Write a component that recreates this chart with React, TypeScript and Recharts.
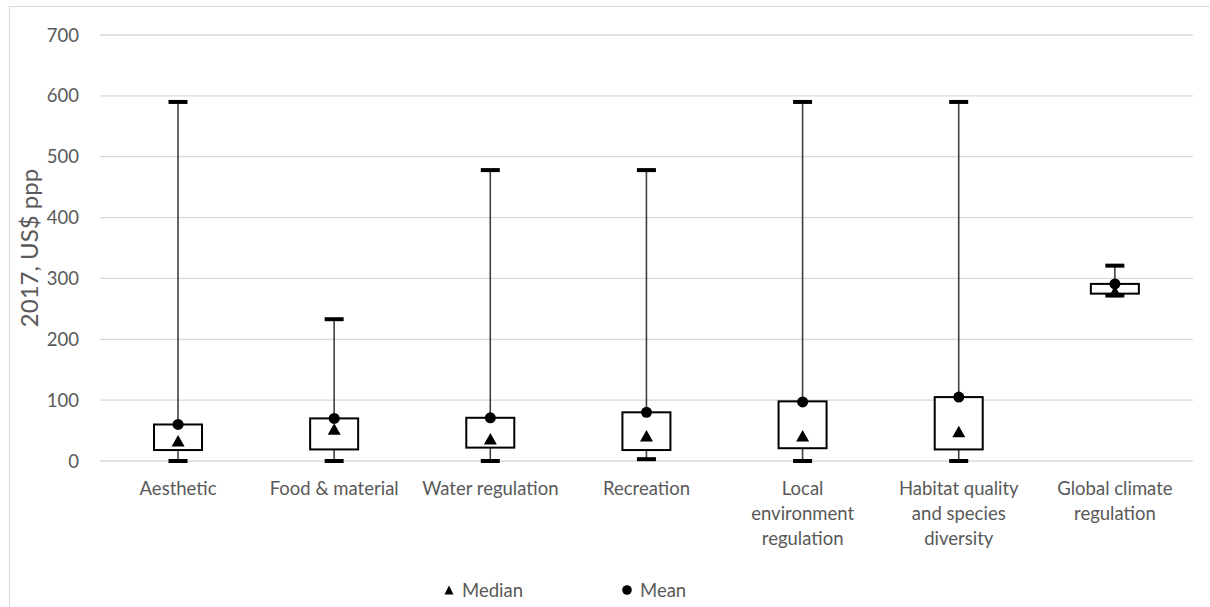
import React from "react";
import { ComposedChart, Bar, Scatter, XAxis, YAxis, CartesianGrid } from "recharts";

// Box plot values (2017, US$ ppp).
const categories = [
  "Aesthetic",
  "Food & material",
  "Water regulation",
  "Recreation",
  "Local environment regulation",
  "Habitat quality and species diversity",
  "Global climate regulation",
];
const minValues = [0, 0, 0, 3, 0, 0, 272];
const q1Values = [18, 19, 22, 18, 21, 19, 275];
const q3Values = [60, 70, 71, 80, 98, 105, 291];
const maxValues = [590, 233, 478, 478, 590, 590, 321];
const medianValues = [33, 52, 36, 41, 41, 48, 278];
const meanValues = [60, 70, 71, 80, 97, 105, 291];
const yTicks = [0, 100, 200, 300, 400, 500, 600, 700];

const FONT = "Lato, 'Open Sans', sans-serif";
const TEXT = "#595959";
const GRID = "#d9d9d9";

const data = categories.map((name, i) => ({
  name,
  base: minValues[i],
  lowerWhisker: q1Values[i] - minValues[i],
  box: q3Values[i] - q1Values[i],
  upperWhisker: maxValues[i] - q3Values[i],
  median: medianValues[i],
  mean: meanValues[i],
}));

// wrap category names the way Excel does in a narrow band
function wrapLabel(label: string, maxChars: number) {
  const words = label.split(" ");
  const lines: string[] = [];
  let cur = "";
  for (const w of words) {
    const next = cur ? cur + " " + w : w;
    if (next.length > maxChars && cur) {
      lines.push(cur);
      cur = w;
    } else {
      cur = next;
    }
  }
  if (cur) lines.push(cur);
  return lines;
}

const CategoryTick = (props: any) => {
  const { x, y, payload } = props;
  const lines = wrapLabel(String(payload.value), 16);
  return (
    <text x={x} y={y} textAnchor="middle" fill={TEXT} fontSize={18.5} fontFamily={FONT}>
      {lines.map((l, i) => (
        <tspan key={i} x={x} dy={i === 0 ? 34 : 25}>
          {l}
        </tspan>
      ))}
    </text>
  );
};

const CAP_W = 19;

const LowerWhisker = (props: any) => {
  const { x, y, width, height } = props;
  const cx = x + width / 2;
  return (
    <g>
      <line x1={cx} x2={cx} y1={y} y2={y + height} stroke="#404040" strokeWidth={1.6} />
      <rect x={cx - CAP_W / 2} y={y + height - 2} width={CAP_W} height={4} fill="#000" />
    </g>
  );
};

const UpperWhisker = (props: any) => {
  const { x, y, width, height } = props;
  const cx = x + width / 2;
  return (
    <g>
      <line x1={cx} x2={cx} y1={y} y2={y + height} stroke="#404040" strokeWidth={1.6} />
      <rect x={cx - CAP_W / 2} y={y - 2} width={CAP_W} height={4} fill="#000" />
    </g>
  );
};

const BoxShape = (props: any) => {
  const { x, y, width, height } = props;
  return <rect x={x} y={y} width={width} height={height} fill="#fff" stroke="#000" strokeWidth={2} />;
};

const Triangle = ({ cx, cy }: any) => (
  <polygon points={`${cx},${cy - 6} ${cx - 6.5},${cy + 5.5} ${cx + 6.5},${cy + 5.5}`} fill="#000" />
);

const Dot = ({ cx, cy }: any) => <circle cx={cx} cy={cy} r={5.5} fill="#000" />;

export default function App() {
  return (
    <div style={{ position: "fixed", left: 0, top: 0, width: 1210, height: 607, overflow: "hidden", background: "#fff" }}>
      <div
        style={{
          position: "absolute",
          left: 9,
          top: 6,
          width: 1230,
          height: 640,
          border: `1px solid ${GRID}`,
        }}
      />
      <div style={{ position: "absolute", left: 0, top: 0 }}>
        <ComposedChart
          width={1210}
          height={607}
          data={data}
          margin={{ top: 35, right: 17, bottom: 46, left: 0 }}
          barSize={48}
        >
          <CartesianGrid vertical={false} stroke={GRID} strokeWidth={1.3} />
          <XAxis
            dataKey="name"
            axisLine={false}
            tickLine={false}
            tickSize={0}
            tickMargin={0}
            height={100}
            interval={0}
            tick={<CategoryTick />}
          />
          <YAxis
            domain={[0, 700]}
            ticks={yTicks}
            axisLine={false}
            tickLine={false}
            tickSize={0}
            tickMargin={21}
            width={100}
            tick={{ fill: TEXT, fontSize: 18.5, fontFamily: FONT }}
            label={{
              content: () => (
                <text
                  x={38}
                  y={248}
                  transform="rotate(-90 38 248)"
                  textAnchor="middle"
                  fill={TEXT}
                  fontSize={24}
                  fontFamily={FONT}
                >
                  2017, US$ ppp
                </text>
              ),
            }}
          />
          <Bar dataKey="base" stackId="bp" fill="transparent" isAnimationActive={false} />
          <Bar dataKey="lowerWhisker" stackId="bp" shape={<LowerWhisker />} isAnimationActive={false} />
          <Bar dataKey="box" stackId="bp" shape={<BoxShape />} isAnimationActive={false} />
          <Bar dataKey="upperWhisker" stackId="bp" shape={<UpperWhisker />} isAnimationActive={false} />
          <Scatter dataKey="median" name="Median" shape={<Triangle />} isAnimationActive={false} />
          <Scatter dataKey="mean" name="Mean" shape={<Dot />} isAnimationActive={false} />
        </ComposedChart>
      </div>
      {/* legend */}
      <div
        style={{
          position: "absolute",
          top: 578,
          left: 0,
          width: 1210,
          height: 24,
          fontFamily: FONT,
          fontSize: 18.5,
          color: TEXT,
        }}
      >
        <div style={{ position: "absolute", left: 444, top: 0, display: "flex", alignItems: "center", height: 24 }}>
          <svg width={10} height={10} style={{ marginRight: 8 }}>
            <polygon points="5,0.5 0.5,9.5 9.5,9.5" fill="#000" />
          </svg>
          <span>Median</span>
        </div>
        <div style={{ position: "absolute", left: 622, top: 0, display: "flex", alignItems: "center", height: 24 }}>
          <svg width={10} height={10} style={{ marginRight: 8 }}>
            <circle cx={5} cy={5} r={4.8} fill="#000" />
          </svg>
          <span>Mean</span>
        </div>
      </div>
    </div>
  );
}
